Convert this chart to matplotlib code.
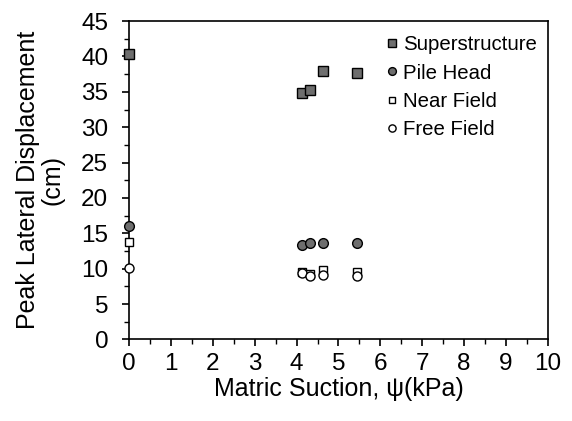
import matplotlib.pyplot as plt
import numpy as np
from matplotlib.ticker import MultipleLocator

plt.rcParams['font.family'] = ['Liberation Sans', 'DejaVu Sans']

# data
suction = [0, 4.13, 4.31, 4.63, 5.45]
superstructure = [40.3, 34.9, 35.2, 37.9, 37.7]
pile_head = [16.1, 13.3, 13.6, 13.7, 13.6]
near_field = [13.8, 9.6, 9.3, 9.8, 9.6]
free_field = [10.05, 9.4, 9.0, 9.1, 9.0]

gray = '#6e6e6e'

fig = plt.figure(figsize=(5.72, 4.21), dpi=100)
ax = fig.add_axes([0.2255, 0.1936, 0.7325, 0.7564])

ax.plot(suction, superstructure, 's', ms=6.5, mfc=gray, mec='black', mew=1.0,
        label='Superstructure', clip_on=False, zorder=3)
ax.plot(suction, pile_head, 'o', ms=7, mfc=gray, mec='black', mew=1.0,
        label='Pile Head', clip_on=False, zorder=3)
ax.plot(suction, near_field, 's', ms=6, mfc='white', mec='black', mew=1.0,
        label='Near Field', clip_on=False, zorder=3)
ax.plot(suction, free_field, 'o', ms=6.5, mfc='white', mec='black', mew=1.0,
        label='Free Field', clip_on=False, zorder=3)

ax.set_xlim(0, 10)
ax.set_ylim(0, 45)
ax.xaxis.set_major_locator(MultipleLocator(1))
ax.xaxis.set_minor_locator(MultipleLocator(0.5))
ax.yaxis.set_major_locator(MultipleLocator(5))
ax.yaxis.set_minor_locator(MultipleLocator(2.5))
ax.tick_params(which='major', direction='out', length=5, width=1.2, labelsize=17.5,
               color='black')
ax.tick_params(axis='x', which='major', pad=5)
ax.tick_params(axis='y', which='major', pad=10)
ax.tick_params(which='minor', direction='out', length=3.5, width=1.0)
for s in ax.spines.values():
    s.set_linewidth(1.2)

ax.set_xlabel('Matric Suction, ψ(kPa)', fontsize=18, labelpad=1)
ax.set_ylabel('Peak Lateral Displacement\n(cm)', fontsize=18, labelpad=12, linespacing=1.0)

ax.legend(loc='upper right', frameon=False, fontsize=14.7, handletextpad=0.05,
          handlelength=1.0, labelspacing=0.45, markerscale=0.8,
          borderaxespad=0.3, bbox_to_anchor=(1.008, 1.0))

fig.savefig('out.png', dpi=100)
